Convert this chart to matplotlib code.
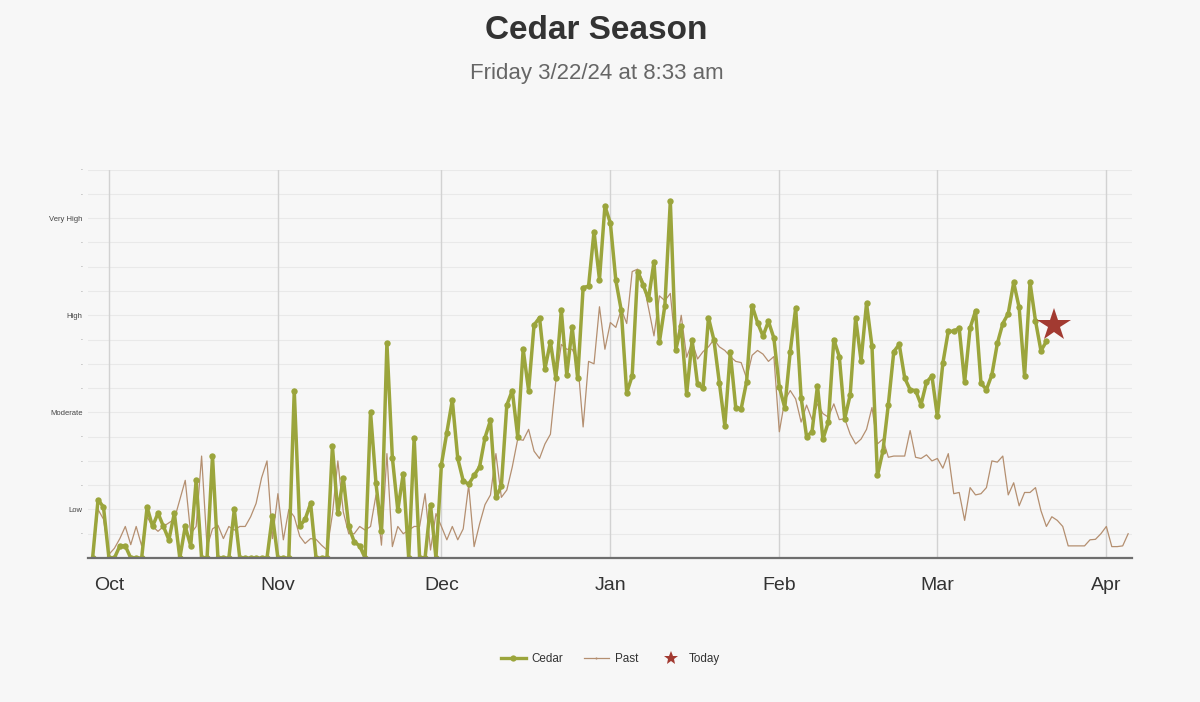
import numpy as np
import pandas as pd
import matplotlib
matplotlib.use('Agg')
import matplotlib.pyplot as plt
import matplotlib.dates as mdates
from matplotlib.lines import Line2D

plt.rcParams['font.family'] = ['Liberation Sans', 'DejaVu Sans']

# ------------------------------------------------------------------ data
# levels on a 0..16 scale: Low = 2, Moderate = 6, High = 10, Very High = 14
cedar_start = '2023-09-28'
cedar = [0, 2.4, 2.1, 0, 0, 0.5, 0.5, 0, 0, 0, 2.1, 1.3, 1.85, 1.3, 0.75, 1.85, 0, 1.3, 0.5, 3.2,
         0, 0, 4.2, 0, 0, 0, 2.0,
         0, 0, 0, 0, 0, 0, 1.75, 0, 0, 0, 6.9, 1.3, 1.6, 2.25, 0, 0, 0, 4.6, 1.85, 3.3, 1.3, 0.67,
         0.5, 0, 6.0, 3.07, 1.1, 8.85,
         4.13, 1.97, 3.48, 0, 4.96, 0, 0, 2.2, 0, 3.85, 5.17, 6.5, 4.1, 3.18, 3.04, 3.4, 3.75, 4.96,
         5.67, 2.5, 2.97, 6.3, 6.9, 5.0, 8.6, 6.9, 9.6, 9.9,
         7.8, 8.9, 7.4, 10.2, 7.55, 9.5, 7.4, 11.14, 11.2, 13.45, 11.47, 14.5, 13.8, 11.44, 10.2, 6.8,
         7.5, 11.8, 11.25, 10.66, 12.2, 8.9, 10.4, 14.7, 8.57, 9.57, 6.76,
         8.98, 7.15, 7.0, 9.9, 8.98, 7.23, 5.45, 8.47, 6.2, 6.15, 7.27, 10.4, 9.7, 9.14, 9.75, 9.06,
         7.04, 6.19, 8.5, 10.3, 6.6, 5.0, 5.2, 7.1, 4.9, 5.6, 9.0, 8.3,
         5.74, 6.72, 9.88, 8.13, 10.49, 8.72, 3.4, 4.4, 6.32, 8.5, 8.8, 7.42, 6.93, 6.9, 6.32, 7.24,
         7.5, 5.83, 8.02, 9.34, 9.34, 9.47, 7.24, 9.47, 10.18, 7.2, 6.94,
         7.55, 8.84, 9.66, 10.07, 11.35, 10.32, 7.5, 11.35, 9.77, 8.54, 8.92]

past_start = '2023-09-28'
past = [0.1, 2.0, 1.6, 0.15, 0.4, 0.8, 1.3, 0.55, 1.3, 0.5, 1.7, 1.3, 1.1, 1.3, 1.45, 1.6, 2.4,
        3.2, 1.0, 1.3, 4.2, 0.45, 1.2, 1.35, 0.8, 1.3, 1.15,
        1.3, 1.3, 1.7, 2.25, 3.3, 4.0, 0.8, 2.65, 0.75, 2.0, 1.7, 0.9, 0.6, 0.8, 0.77, 0.53, 0.33,
        1.8, 4.0, 1.9, 1.0, 1.0, 1.3, 1.15, 1.3, 2.6, 0.53, 4.3,
        0.47, 1.3, 1.0, 1.15, 1.3, 1.3, 2.65, 0.33, 1.83, 1.3, 0.75, 1.3, 0.75, 1.2, 3.0, 0.47, 1.4,
        2.2, 2.6, 4.3, 2.5, 2.8, 3.75, 4.9, 4.85, 5.3, 4.4, 4.1,
        4.7, 5.1, 7.3, 8.8, 8.6, 8.6, 8.1, 5.4, 8.1, 8.0, 10.35, 8.6, 9.7, 9.5, 10.25, 9.66, 11.8,
        11.9, 11.4, 10.3, 9.15, 10.8, 10.6, 10.9, 8.6, 10.0, 8.27,
        8.9, 8.2, 8.5, 8.7, 9.0, 8.7, 8.55, 8.3, 8.1, 8.05, 7.4, 8.35, 8.55, 8.4, 8.1, 8.3, 5.2, 6.5,
        6.9, 6.55, 5.6, 6.3, 5.7, 6.35, 5.95, 5.8, 6.35, 5.7,
        5.74, 5.1, 4.7, 4.9, 5.3, 6.2, 4.7, 4.9, 4.15, 4.2, 4.2, 4.2, 5.25, 4.15, 4.1, 4.25, 4.0, 4.1,
        3.7, 4.3, 2.65, 2.7, 1.55, 2.9, 2.6, 2.65, 2.9,
        4.0, 3.95, 4.2, 2.6, 3.1, 2.15, 2.7, 2.7, 2.9, 1.95, 1.3, 1.7, 1.55, 1.3, 0.5, 0.5, 0.5, 0.5,
        0.75, 0.77, 1.0, 1.3, 0.47, 0.47, 0.5, 1.0]

today_time = '2024-03-22 08:33'
today_value = 9.6

level_ticks = list(range(0, 17))
level_names = {2: 'Low', 6: 'Moderate', 10: 'High', 14: 'Very High'}
month_ticks = ['2023-10-01', '2023-11-01', '2023-12-01', '2024-01-01', '2024-02-01',
               '2024-03-01', '2024-04-01']
month_labels = ['Oct', 'Nov', 'Dec', 'Jan', 'Feb', 'Mar', 'Apr']

# ------------------------------------------------------------------ colours
bg = '#f7f7f7'
c_cedar = '#9ba53c'
c_past = '#b48f70'
c_today = '#a23a31'

cedar_t = pd.date_range(cedar_start, periods=len(cedar), freq='D')
past_t = pd.date_range(past_start, periods=len(past), freq='D')

fig = plt.figure(figsize=(12, 7.02), dpi=100, facecolor=bg)
ax = fig.add_axes([0.0733, 0.2051, 0.87, 0.5533], facecolor=bg)

# grid
for y in level_ticks[1:]:
    ax.axhline(y, color='#e9e9e9', lw=0.8, zorder=0)
for m in month_ticks:
    ax.axvline(pd.Timestamp(m), color='#d2d2d2', lw=1.0, zorder=0)

ax.plot(past_t, past, color=c_past, lw=0.9, zorder=2, solid_joinstyle='round')
ax.plot(cedar_t, cedar, color=c_cedar, lw=2.5, marker='o', markersize=4.6,
        markeredgewidth=0, zorder=3, solid_joinstyle='round')
ax.plot(pd.Timestamp(today_time), today_value, marker='*', color=c_today, markersize=25,
        markeredgewidth=0, zorder=4, ls='none')

x0 = mdates.date2num(pd.Timestamp('2023-10-01'))
ax.set_xlim(x0 - 3.85, x0 + 187.7)
ax.set_ylim(0, 16)

ax.set_xticks([pd.Timestamp(m) for m in month_ticks])
ax.set_xticklabels(month_labels, fontsize=14, color='#333333')
ax.set_yticks(level_ticks)
ylabs = []
for y in level_ticks:
    if y == 0:
        ylabs.append('')
    else:
        ylabs.append(level_names.get(y, '-'))
ax.set_yticklabels(ylabs, fontsize=5.5, color='#444444')
for lab, y in zip(ax.get_yticklabels(), level_ticks):
    if y not in level_names:
        lab.set_fontsize(4)
        lab.set_color('#777777')
ax.tick_params(axis='x', length=0, pad=14)
ax.tick_params(axis='y', length=0, pad=4)

for s in ['top', 'right', 'left']:
    ax.spines[s].set_visible(False)
ax.spines['bottom'].set_color('#6e6e6e')
ax.spines['bottom'].set_linewidth(1.6)
ax.spines['bottom'].set_zorder(5)

fig.text(0.497, 0.956, 'Cedar Season', ha='center', va='center', fontsize=24,
         fontweight='bold', color='#333333')
fig.text(0.497, 0.895, 'Friday 3/22/24 at 8:33 am', ha='center', va='center', fontsize=16,
         color='#666666')

handles = [Line2D([], [], color=c_cedar, lw=2.4, marker='o', markersize=4.5, markeredgewidth=0),
           Line2D([], [], color=c_past, lw=0.9, marker='o', markersize=1.5, markeredgewidth=0),
           Line2D([], [], color=c_today, ls='none', marker='*', markersize=10, markeredgewidth=0)]
fig.legend(handles, ['Cedar', 'Past', 'Today'], loc='center', bbox_to_anchor=(0.509, 0.061),
           ncol=3, frameon=False, fontsize=8.4, handlelength=2.1, columnspacing=1.8,
           handletextpad=0.5, labelcolor='#333333')

fig.savefig('out.png', dpi=100, facecolor=bg)
